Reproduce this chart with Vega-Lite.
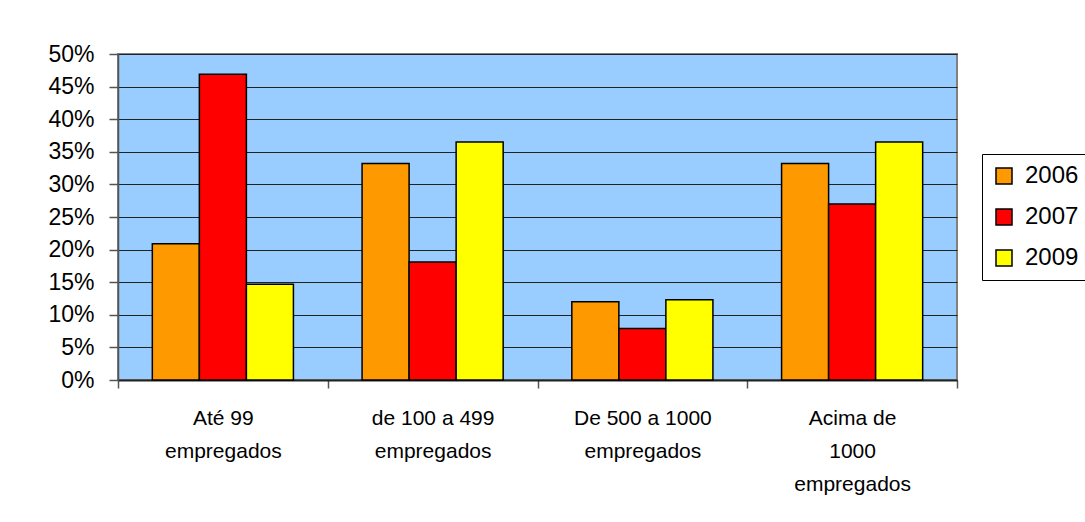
{
  "$schema": "https://vega.github.io/schema/vega-lite/v6.json",
  "autosize": {"type": "none"},
  "padding": {"left": 118, "top": 54, "right": 128, "bottom": 142},
  "width": 839,
  "height": 326,
  "background": "white",
  "config": {
    "font": "Liberation Sans",
    "view": {"fill": "#99CCFF", "stroke": "#808080", "strokeWidth": 2}
  },
  "data": {
    "values": [
      {"faixa": "Até 99 empregados", "ano": "2006", "valor": 0.209},
      {"faixa": "Até 99 empregados", "ano": "2007", "valor": 0.469},
      {"faixa": "Até 99 empregados", "ano": "2009", "valor": 0.147},
      {"faixa": "de 100 a 499 empregados", "ano": "2006", "valor": 0.332},
      {"faixa": "de 100 a 499 empregados", "ano": "2007", "valor": 0.181},
      {"faixa": "de 100 a 499 empregados", "ano": "2009", "valor": 0.365},
      {"faixa": "De 500 a 1000 empregados", "ano": "2006", "valor": 0.12},
      {"faixa": "De 500 a 1000 empregados", "ano": "2007", "valor": 0.079},
      {"faixa": "De 500 a 1000 empregados", "ano": "2009", "valor": 0.123},
      {"faixa": "Acima de 1000 empregados", "ano": "2006", "valor": 0.332},
      {"faixa": "Acima de 1000 empregados", "ano": "2007", "valor": 0.27},
      {"faixa": "Acima de 1000 empregados", "ano": "2009", "valor": 0.365}
    ]
  },
  "mark": {"type": "bar", "stroke": "#000000", "strokeWidth": 1.5},
  "encoding": {
    "x": {
      "field": "faixa",
      "type": "nominal",
      "sort": null,
      "scale": {"paddingInner": 0, "paddingOuter": 0},
      "axis": {
        "title": null,
        "labelAngle": 0,
        "labelFont": "Liberation Sans",
        "labelFontSize": 21,
        "labelColor": "#000000",
        "labelLineHeight": 33,
        "labelPadding": 19,
        "labelLimit": 300,
        "tickBand": "extent",
        "tickSize": 8,
        "tickColor": "#555555",
        "tickWidth": 1.5,
        "domainColor": "#222222",
        "domainWidth": 2,
        "labelExpr": "!datum.value ? '' : datum.value == 'Acima de 1000 empregados' ? ['Acima de', '1000', 'empregados'] : [replace(datum.value, ' empregados', ''), 'empregados']"
      }
    },
    "xOffset": {"field": "ano", "type": "nominal", "scale": {"paddingInner": 0, "paddingOuter": 0.73}},
    "y": {
      "field": "valor",
      "type": "quantitative",
      "scale": {"domain": [0, 0.5], "nice": false},
      "axis": {
        "title": null,
        "format": ".0%",
        "values": [0, 0.05, 0.1, 0.15, 0.2, 0.25, 0.3, 0.35, 0.4, 0.45, 0.5],
        "labelFontSize": 23,
        "labelColor": "#000000",
        "labelPadding": 15,
        "tickSize": 9,
        "tickColor": "#555555",
        "tickWidth": 1.5,
        "domainColor": "#555555",
        "domainWidth": 1.5,
        "grid": true,
        "gridColor": "#222222",
        "gridWidth": 1.2
      }
    },
    "color": {
      "field": "ano",
      "type": "nominal",
      "scale": {"domain": ["2006", "2007", "2009"], "range": ["#FF9900", "#FF0000", "#FFFF00"]},
      "legend": {
        "title": null,
        "orient": "none",
        "legendX": 864,
        "legendY": 100,
        "symbolType": "square",
        "symbolSize": 256,
        "symbolStrokeColor": "#000000",
        "symbolStrokeWidth": 1.5,
        "symbolOpacity": 1,
        "labelFontSize": 24,
        "labelColor": "#000000",
        "labelOffset": 9,
        "rowPadding": 17,
        "padding": 10,
        "strokeColor": "#000000",
        "fillColor": "#FFFFFF"
      }
    }
  }
}
